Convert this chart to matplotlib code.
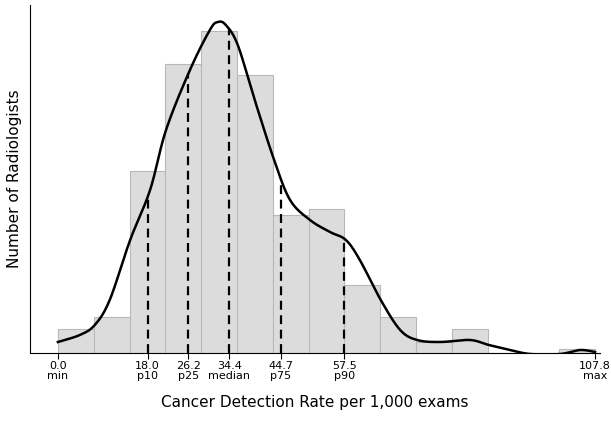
import matplotlib.pyplot as plt
import numpy as np

# histogram: 15 equal bins from 0 to 107.8 (heights, arbitrary units)
bin_edges = np.linspace(0, 107.8, 16)
bar_heights = [24, 36, 182, 289, 322, 278, 138, 144, 68, 36, 11, 24, 0, 0, 4]

# density curve (x in rate units, y in same units as bars)
curve_x = [0, 4.4, 7.4, 10.4, 14.5, 18.5, 21.7, 26.5, 30.5, 32.1, 33.7, 36.1, 39.5,
           43.4, 46.6, 50.6, 54.6, 57.8, 60.6, 64.8, 68.7, 72.1, 76.7, 82.7, 86.5,
           90.8, 94.8, 100.8, 104.8, 107.8]
curve_y = [11, 18, 28, 53, 113, 163, 223, 283, 323, 331, 328, 308, 253,
           193, 153, 133, 121, 113, 93, 53, 23, 13, 11, 13, 8,
           3, -1, -1, 3, 1]

tick_vals = [0.0, 18.0, 26.2, 34.4, 44.7, 57.5, 107.8]
tick_names = ['min', 'p10', 'p25', 'median', 'p75', 'p90', 'max']
pct_vals = [18.0, 26.2, 34.4, 44.7, 57.5]


def smooth(xs, ys, n=20):
    # catmull-rom through the read points, just to draw a smooth line
    p = np.column_stack([xs, ys]).astype(float)
    p = np.vstack([p[0], p, p[-1]])
    out = []
    t = np.linspace(0, 1, n, endpoint=False)[:, None]
    for i in range(1, len(p) - 2):
        p0, p1, p2, p3 = p[i - 1], p[i], p[i + 1], p[i + 2]
        out.append(0.5 * (2 * p1 + (-p0 + p2) * t + (2 * p0 - 5 * p1 + 4 * p2 - p3) * t ** 2
                          + (-p0 + 3 * p1 - 3 * p2 + p3) * t ** 3))
    out.append(p[-2][None, :])
    out = np.vstack(out)
    return out[:, 0], out[:, 1]


sx, sy = smooth(curve_x, curve_y)

fig = plt.figure(figsize=(6.11, 4.21), dpi=100)
ax = fig.add_axes([30 / 611, 68 / 421, 570 / 611, 348 / 421])

ax.bar(bin_edges[:-1], bar_heights, width=np.diff(bin_edges), align='edge',
       color='#dcdcdc', edgecolor='#b8b8b8', linewidth=0.8)
ax.plot(sx, sy, color='black', linewidth=1.8)
for p in pct_vals:
    ax.plot([p, p], [0, np.interp(p, sx, sy)], color='black',
            linewidth=1.6, linestyle=(0, (4, 2.5)))

ax.set_xlim(-5.6, 108.8)
ax.set_ylim(0, 348)
ax.set_yticks([])
ax.set_xticks(tick_vals)
ax.set_xticklabels([f'{v:.1f}\n{n}' for v, n in zip(tick_vals, tick_names)],
                   fontsize=8, linespacing=1.0)
ax.tick_params(axis='x', length=4, pad=2)
for s in ['top', 'right']:
    ax.spines[s].set_visible(False)
ax.set_xlabel('Cancer Detection Rate per 1,000 exams', fontsize=11, labelpad=10)
ax.set_ylabel('Number of Radiologists', fontsize=11, labelpad=6)

fig.savefig('out.png', dpi=100)
